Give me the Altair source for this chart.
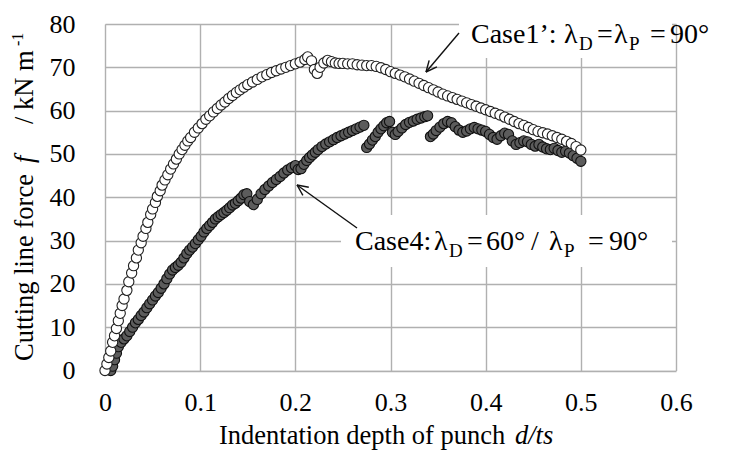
import altair as alt
import pandas as pd
import numpy as np

# ---------------- data ----------------
case1_x = [0.000, 0.002, 0.004, 0.006, 0.008, 0.010, 0.012, 0.014, 0.016, 0.018,
           0.020, 0.023, 0.025, 0.028, 0.030, 0.033, 0.035, 0.038, 0.040, 0.043,
           0.045, 0.048, 0.050, 0.053, 0.055, 0.058, 0.060, 0.063, 0.066, 0.069,
           0.072, 0.075, 0.078, 0.081, 0.084, 0.087, 0.090, 0.094, 0.098, 0.102,
           0.106, 0.110, 0.114, 0.118, 0.122, 0.126, 0.130, 0.134, 0.138, 0.142,
           0.146, 0.150, 0.155, 0.160, 0.165, 0.170, 0.175, 0.180, 0.185, 0.190,
           0.195, 0.200, 0.205, 0.210, 0.213, 0.217, 0.220, 0.223, 0.226, 0.230,
           0.234, 0.238, 0.242, 0.246, 0.250, 0.255, 0.260, 0.265, 0.270, 0.275,
           0.280, 0.285, 0.290, 0.295, 0.300, 0.305, 0.310, 0.315, 0.320, 0.325,
           0.330, 0.335, 0.340, 0.345, 0.350, 0.355, 0.360, 0.365, 0.370, 0.375,
           0.380, 0.385, 0.390, 0.395, 0.400, 0.405, 0.410, 0.415, 0.420, 0.425,
           0.430, 0.435, 0.440, 0.445, 0.450, 0.455, 0.460, 0.465, 0.470, 0.475,
           0.480, 0.485, 0.490, 0.495, 0.500]
case1_y = [0.0, 1.5, 3.0, 4.5, 6.5, 8.0, 9.7, 11.5, 13.2, 15.0,
           16.5, 18.5, 20.5, 22.5, 24.2, 26.0, 27.8, 29.5, 31.0, 32.8,
           34.2, 36.0, 37.3, 38.8, 40.2, 41.5, 42.8, 44.0, 45.2, 46.5,
           47.7, 48.8, 50.0, 51.0, 52.0, 53.0, 53.8, 55.0, 56.0, 57.0,
           58.0, 58.8, 59.7, 60.5, 61.3, 62.0, 62.8, 63.5, 64.2, 64.8,
           65.4, 66.0, 66.6, 67.2, 67.8, 68.3, 68.8, 69.2, 69.6, 70.0,
           70.4, 70.8, 71.2, 71.8, 72.4, 71.5, 69.5, 68.6, 70.0, 71.0,
           71.6, 71.3, 71.0, 70.9, 70.9, 70.8, 70.8, 70.6, 70.5, 70.4,
           70.4, 70.2, 69.9, 69.5, 69.0, 68.6, 68.2, 67.8, 67.3, 66.8,
           66.3, 65.8, 65.3, 64.8, 64.3, 63.8, 63.4, 63.0, 62.6, 62.2,
           61.8, 61.4, 61.0, 60.6, 60.2, 59.8, 59.4, 59.0, 58.5, 58.0,
           57.5, 57.0, 56.6, 56.1, 55.6, 55.2, 54.9, 54.6, 54.2, 53.8,
           53.4, 52.9, 52.4, 51.7, 50.9]

case4_x = [0.006, 0.008, 0.010, 0.012, 0.014, 0.017, 0.020, 0.023, 0.026, 0.029,
           0.032, 0.035, 0.038, 0.041, 0.044, 0.047, 0.050, 0.053, 0.056, 0.059,
           0.062, 0.065, 0.068, 0.071, 0.074, 0.077, 0.080, 0.083, 0.086, 0.089,
           0.092, 0.095, 0.098, 0.101, 0.104, 0.107, 0.110, 0.113, 0.116, 0.119,
           0.122, 0.125, 0.128, 0.131, 0.134, 0.137, 0.140, 0.143, 0.146, 0.149,
           0.152, 0.156, 0.160, 0.164, 0.168, 0.172, 0.176, 0.180, 0.184, 0.188,
           0.192, 0.196, 0.200, 0.203, 0.206, 0.209, 0.212, 0.215, 0.218, 0.221,
           0.224, 0.228, 0.232, 0.236, 0.240, 0.244, 0.248, 0.252, 0.256, 0.260,
           0.264, 0.268, 0.272, 0.275, 0.278, 0.281, 0.284, 0.287, 0.290, 0.293,
           0.296, 0.299, 0.302, 0.305, 0.308, 0.312, 0.316, 0.320, 0.324, 0.328,
           0.332, 0.336, 0.339, 0.342, 0.345, 0.348, 0.352, 0.356, 0.360, 0.364,
           0.368, 0.372, 0.376, 0.380, 0.384, 0.388, 0.392, 0.396, 0.400, 0.404,
           0.408, 0.412, 0.416, 0.420, 0.424, 0.428, 0.432, 0.436, 0.440, 0.444,
           0.448, 0.452, 0.456, 0.460, 0.464, 0.468, 0.472, 0.476, 0.480, 0.484,
           0.488, 0.492, 0.496, 0.500]
case4_y = [0.0, 1.0, 2.5, 4.0, 5.5, 6.5, 7.3, 8.0, 9.0, 10.0,
           11.0, 11.8, 12.7, 13.5, 14.5, 15.4, 16.3, 17.2, 18.0, 19.0,
           20.0, 21.2, 22.3, 23.2, 23.8, 24.3, 25.0, 26.0, 27.0, 27.8,
           28.5, 29.3, 30.2, 31.0, 32.0, 32.8, 33.5, 34.2, 35.0, 35.5,
           36.0, 36.5, 37.0, 37.6, 38.2, 38.6, 39.2, 39.8, 40.6, 40.8,
           39.0, 38.3, 39.5, 40.8, 41.8, 42.6, 43.4, 44.1, 44.8, 45.6,
           46.3, 46.8, 47.3, 46.4, 46.6, 47.6, 48.5, 49.2, 49.8, 50.4,
           51.0, 51.7, 52.3, 52.8, 53.3, 53.8, 54.2, 54.6, 55.0, 55.4,
           55.8, 56.2, 56.6, 51.5, 52.3, 53.2, 54.0, 55.0, 55.8, 56.5,
           57.2, 57.5, 55.0, 54.5, 55.2, 56.0, 56.8, 57.3, 57.6, 58.0,
           58.3, 58.6, 58.8, 54.0, 54.6, 55.4, 56.2, 57.0, 57.5, 57.2,
           56.3, 55.5, 55.0, 55.3, 55.8, 56.1, 55.8, 55.5, 55.2, 54.5,
           53.8, 53.4, 54.2, 54.8, 54.5, 53.0, 52.2, 52.6, 53.0, 52.8,
           52.2, 51.8, 52.2, 51.6, 51.2, 51.0, 51.3, 50.8, 50.4, 50.6,
           50.2, 49.6, 49.0, 48.3]

x_ticks = [0, 0.1, 0.2, 0.3, 0.4, 0.5, 0.6]
y_ticks = [0, 10, 20, 30, 40, 50, 60, 70, 80]

# ---------------- layout ----------------
FONT = "Liberation Serif"
L, T = 105, 24           # plot origin in the picture
W, H = 571, 346.5        # plot area
TOTAL_W, TOTAL_H = 730, 452

df1 = pd.DataFrame({"x": case1_x, "y": case1_y})
df4 = pd.DataFrame({"x": case4_x, "y": case4_y})

xscale = alt.Scale(domain=[0, 0.6], nice=False, zero=False)
yscale = alt.Scale(domain=[0, 80], nice=False, zero=False)

GRID = "#b0b0b0"
xaxis = alt.Axis(values=x_ticks, format=".1~f", title=None, ticks=False, domain=False,
                 grid=True, gridColor=GRID, gridWidth=1.4,
                 labelFont=FONT, labelFontSize=26, labelColor="black",
                 labelPadding=19, labelFlush=False, labelOverlap=False)
yaxis = alt.Axis(values=y_ticks, format="d", title=None, ticks=False, domain=False,
                 grid=True, gridColor=GRID, gridWidth=1.4,
                 labelFont=FONT, labelFontSize=26, labelColor="black",
                 labelPadding=30, labelFlush=False, labelOverlap=False)

pts4 = alt.Chart(df4).mark_circle(size=105, fill="#5c5c5c", stroke="#101010",
                                  strokeWidth=1.1, opacity=1, fillOpacity=1).encode(
    x=alt.X("x:Q", scale=xscale, axis=xaxis),
    y=alt.Y("y:Q", scale=yscale, axis=yaxis),
)
pts1 = alt.Chart(df1).mark_circle(size=105, fill="white", stroke="#202020",
                                  strokeWidth=1.1, opacity=1, fillOpacity=1).encode(
    x=alt.X("x:Q", scale=xscale, axis=xaxis),
    y=alt.Y("y:Q", scale=yscale, axis=yaxis),
)


def px(v):
    return v - L


def py(v):
    return v - T


# white boxes behind the annotation texts (picture pixels)
boxes = pd.DataFrame({
    "px": [px(459), px(341)], "px2": [px(672), px(672)],
    "py": [py(0), py(215)], "py2": [py(58), py(267)],
})
box_layer = alt.Chart(boxes).mark_rect(fill="white").encode(
    x=alt.X("px:Q", scale=None, axis=None), x2="px2:Q",
    y=alt.Y("py:Q", scale=None, axis=None), y2="py2:Q",
)


def arrow(tail, head, L_head=12, ang=25):
    (tx, ty), (hx, hy) = tail, head
    d = np.array([tx - hx, ty - hy], dtype=float)
    d /= np.hypot(*d)
    segs = [(tx, ty, hx, hy)]
    for s in (1, -1):
        a = np.radians(ang) * s
        r = np.array([d[0] * np.cos(a) - d[1] * np.sin(a),
                      d[0] * np.sin(a) + d[1] * np.cos(a)])
        segs.append((hx, hy, hx + L_head * r[0], hy + L_head * r[1]))
    return segs


segs = arrow((459, 33), (426, 72)) + arrow((357, 228), (297, 185))
arrows = pd.DataFrame({
    "px": [px(s[0]) for s in segs], "py": [py(s[1]) for s in segs],
    "px2": [px(s[2]) for s in segs], "py2": [py(s[3]) for s in segs],
})
arrow_layer = alt.Chart(arrows).mark_rule(color="#111111", strokeWidth=1.4).encode(
    x=alt.X("px:Q", scale=None, axis=None), x2="px2:Q",
    y=alt.Y("py:Q", scale=None, axis=None), y2="py2:Q",
)

# annotation text pieces: (text, x, baseline y, size)
ann_text = ["Case1\u2019:", "\u03bb", "D", "=", "\u03bb", "P", "=", "90\u00b0",
            "Case4:", "\u03bb", "D", "=", "60\u00b0", "/", "\u03bb", "P", "=", "90\u00b0"]
ann_x = [471, 564, 579, 597, 614, 629, 650, 670,
         355, 434, 449, 467, 486, 531, 549, 564, 588, 609]
ann_y = [43.3, 43.3, 50, 43.3, 43.3, 50, 43.3, 43.3,
         250, 250, 257, 250, 250, 250, 250, 257, 250, 250]
ann_s = [28, 28, 19, 28, 28, 19, 28, 28,
         28, 28, 19, 28, 28, 28, 28, 19, 28, 28]
ann = pd.DataFrame({"t": ann_text, "px": [px(v) for v in ann_x],
                    "py": [py(v) for v in ann_y], "fs": ann_s})

# axis titles (pieces so that the symbols can be italic)
xt = pd.DataFrame({"t": ["Indentation depth of punch"], "px": [px(219)], "py": [py(443.5)], "fs": [26.5]})
xt_i = pd.DataFrame({"t": ["d/ts"], "px": [px(515)], "py": [py(443.5)], "fs": [26.5]})
yt = pd.DataFrame({"t": ["Cutting line force", "/ kN m", "-1"],
                   "px": [px(33), px(33), px(23)],
                   "py": [py(361), py(124), py(46)], "fs": [26.5, 26.5, 16]})
yt_i = pd.DataFrame({"t": ["f"], "px": [px(33)], "py": [py(163)], "fs": [26.5]})


def text_layer(df, italic=False, angle=0):
    return alt.Chart(df).mark_text(
        font=FONT, align="left", baseline="alphabetic", color="black",
        fontStyle="italic" if italic else "normal", angle=angle,
    ).encode(
        x=alt.X("px:Q", scale=None, axis=None),
        y=alt.Y("py:Q", scale=None, axis=None),
        text="t:N",
        size=alt.Size("fs:Q", scale=None, legend=None),
    )


chart = alt.layer(
    box_layer, pts4, pts1, arrow_layer,
    text_layer(ann), text_layer(xt), text_layer(xt_i, italic=True),
    text_layer(yt, angle=270), text_layer(yt_i, italic=True, angle=270),
).properties(
    width=W, height=H,
    autosize=alt.AutoSizeParams(type="none"),
    padding={"left": L, "top": T, "right": TOTAL_W - L - W, "bottom": TOTAL_H - T - H},
).configure_view(stroke=None).configure(background="white")

chart.save("out.html", embed_options={"renderer": "svg", "actions": False})
